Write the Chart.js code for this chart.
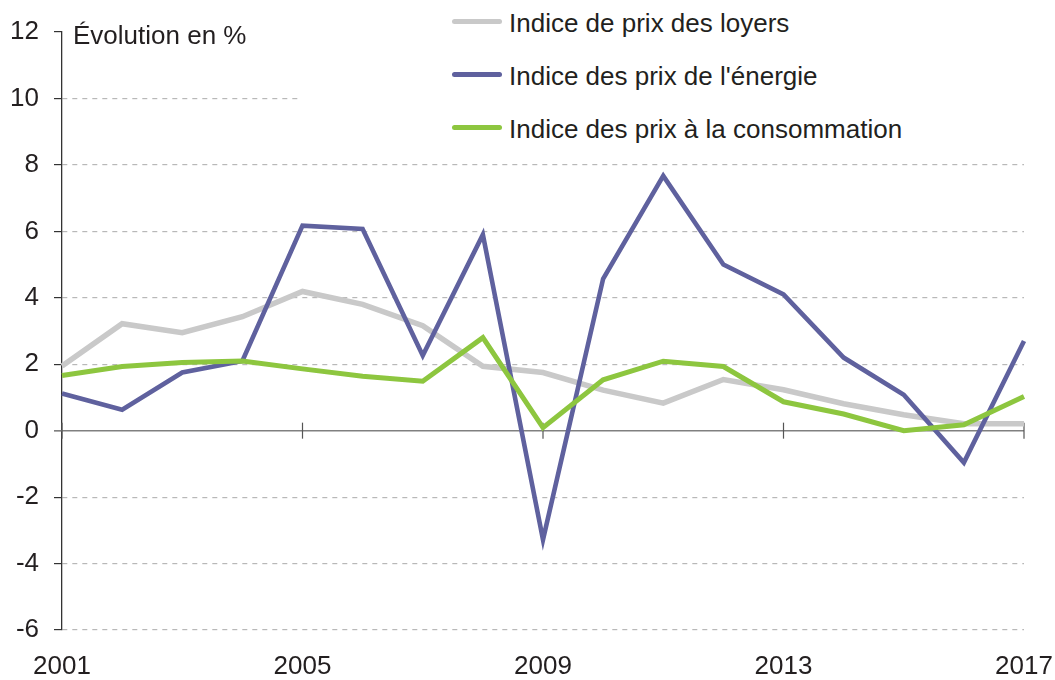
<!DOCTYPE html>
<html lang="fr">
<head>
<meta charset="utf-8">
<title>Évolution des indices de prix</title>
<script src="https://cdn.jsdelivr.net/npm/chart.js@4/dist/chart.umd.min.js"></script>
<style>
  html, body { margin: 0; padding: 0; background: #fff; }
  #wrap { position: relative; width: 1055px; height: 680px; font-family: "Liberation Sans", Arial, sans-serif; color: #231f20; }
  #chart { position: absolute; left: 0; top: 0; }
  #unit { position: absolute; left: 73px; top: 22px; font-size: 26px; line-height: 26px; white-space: nowrap; }
  #legend { position: absolute; left: 300px; top: 0; width: 755px; height: 152px; background: #fff; padding: 10px 0 0 152px; box-sizing: border-box; }
  .item { display: flex; align-items: center; height: 26px; margin-bottom: 27px; font-size: 26px; line-height: 26px; white-space: nowrap; }
  .swatch { width: 50px; height: 5px; border-radius: 2.5px; margin: 1px 7px 0 0; flex: none; position: relative; top: -2px; }
</style>
</head>
<body>
<div id="wrap">
  <canvas id="chart" width="1055" height="680"></canvas>
  <div id="unit">Évolution en %</div>
  <div id="legend"></div>
</div>
<script>
// Data
const years = ['2001', '2002', '2003', '2004', '2005', '2006', '2007', '2008', '2009',
               '2010', '2011', '2012', '2013', '2014', '2015', '2016', '2017'];
const loyers = [1.95, 3.22, 2.95, 3.43, 4.19, 3.8, 3.16, 1.94, 1.75, 1.22, 0.83, 1.54, 1.23, 0.81, 0.48, 0.21, 0.21];
const energie = [1.12, 0.63, 1.75, 2.1, 6.17, 6.07, 2.26, 5.9, -3.28, 4.57, 7.67, 5.0, 4.1, 2.2, 1.08, -0.96, 2.7];
const conso = [1.66, 1.93, 2.05, 2.1, 1.86, 1.64, 1.49, 2.8, 0.09, 1.53, 2.09, 1.93, 0.87, 0.5, 0.0, 0.18, 1.03];
const yTicks = [-6, -4, -2, 0, 2, 4, 6, 8, 10, 12];
const labelEvery = 4;

const FONT = '"Liberation Sans", Arial, sans-serif';
const TEXT = '#231f20';

const series = [
    { label: 'Indice de prix des loyers', data: loyers, color: '#c9c9c9', width: 5.5, order: 3 },
    { label: "Indice des prix de l'énergie", data: energie, color: '#5f619e', width: 4.6, order: 2 },
    { label: 'Indice des prix à la consommation', data: conso, color: '#8dc63f', width: 5, order: 1 }
];

// zero line with crossing ticks, drawn under the lines
const zeroLine = {
    id: 'zeroLine',
    beforeDatasetsDraw(chart) {
        const { ctx, scales: { x, y }, chartArea } = chart;
        const y0 = y.getPixelForValue(0);
        ctx.save();
        ctx.strokeStyle = '#808080';
        ctx.lineWidth = 1.5;
        ctx.beginPath();
        ctx.moveTo(chartArea.left - 8, y0);
        ctx.lineTo(chartArea.right, y0);
        ctx.stroke();
        ctx.strokeStyle = '#555';
        ctx.lineWidth = 1.2;
        years.forEach((yr, i) => {
            if (i % labelEvery !== 0) return;
            const px = x.getPixelForValue(i);
            ctx.beginPath();
            ctx.moveTo(px, y0 - 8);
            ctx.lineTo(px, y0 + 8);
            ctx.stroke();
        });
        ctx.restore();
    }
};

new Chart(document.getElementById('chart'), {
    type: 'line',
    data: {
        labels: years,
        datasets: series.map(s => ({
            label: s.label,
            data: s.data,
            borderColor: s.color,
            backgroundColor: s.color,
            borderWidth: s.width,
            order: s.order,
            pointRadius: 0,
            tension: 0,
            fill: false
        }))
    },
    options: {
        responsive: false,
        animation: false,
        events: [],
        layout: { padding: { top: 32, right: 0, left: 0, bottom: 0 } },
        plugins: {
            legend: { display: false },
            tooltip: { enabled: false }
        },
        scales: {
            x: {
                offset: false,
                grid: { display: false, drawTicks: false },
                border: { display: false },
                ticks: {
                    autoSkip: false,
                    maxRotation: 0,
                    padding: 21,
                    color: TEXT,
                    font: { family: FONT, size: 26 },
                    callback: (v, i) => (i % labelEvery === 0 ? years[i] : '')
                },
                afterFit: s => {
                    s.height = 50;
                    s.paddingLeft = 0;
                    s.paddingRight = 31;
                }
            },
            y: {
                min: yTicks[0],
                max: yTicks[yTicks.length - 1],
                afterBuildTicks: s => { s.ticks = yTicks.map(v => ({ value: v })); },
                grid: {
                    color: c => (c.tick && (c.tick.value === 0 || c.tick.value === 12) ? 'rgba(0,0,0,0)' : '#b8b8b8'),
                    lineWidth: 1.2,
                    tickColor: '#333',
                    tickLength: 8,
                    tickWidth: 1.2
                },
                border: { display: true, color: '#333', width: 1.3, dash: [5, 5] },
                ticks: {
                    padding: 15,
                    color: TEXT,
                    font: { family: FONT, size: 26 }
                },
                afterFit: s => { s.width = 62; }
            }
        }
    },
    plugins: [zeroLine]
});

// legend in html
const legend = document.getElementById('legend');
series.forEach(s => {
    const row = document.createElement('div');
    row.className = 'item';
    const sw = document.createElement('span');
    sw.className = 'swatch';
    sw.style.background = s.color;
    const txt = document.createElement('span');
    txt.textContent = s.label;
    row.appendChild(sw);
    row.appendChild(txt);
    legend.appendChild(row);
});
</script>
</body>
</html>
